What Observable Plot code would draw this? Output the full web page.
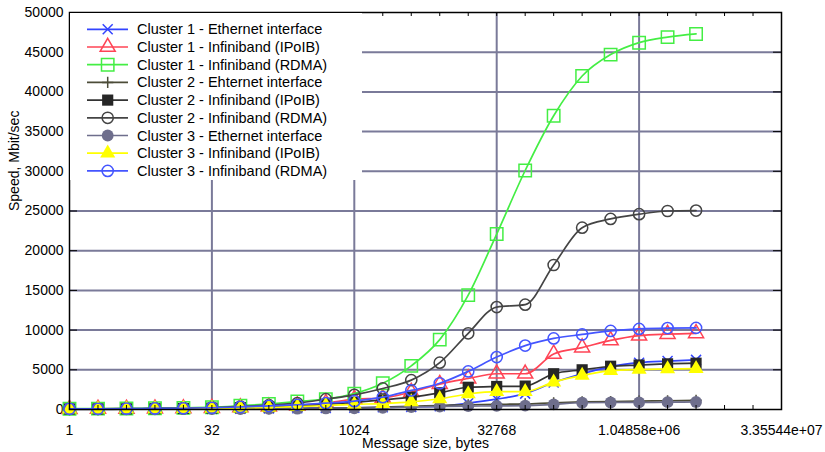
<!DOCTYPE html>
<html><head><meta charset="utf-8">
<script src="https://cdn.jsdelivr.net/npm/d3@7"></script>
<script src="https://cdn.jsdelivr.net/npm/@observablehq/plot@0.6"></script>
<style>
body{margin:0;background:#fff;font-family:"Liberation Sans",Arial,sans-serif;}
#wrap{position:relative;width:825px;height:452px;}
#legend{position:absolute;left:70px;top:13px;background:#fff;}
</style></head><body><div id="wrap"></div>
<script>
// message sizes 2^0 .. 2^22 bytes
const messageSizes = d3.range(23).map(i => 2 ** i);

const seriesNames = [
  "Cluster 1 - Ethernet interface",
  "Cluster 1 - Infiniband (IPoIB)",
  "Cluster 1 - Infiniband (RDMA)",
  "Cluster 2 - Ehternet interface",
  "Cluster 2 - Infiniband (IPoIB)",
  "Cluster 2 - Infiniband (RDMA)",
  "Cluster 3 - Ethernet interface",
  "Cluster 3 - Infiniband (IPoIB)",
  "Cluster 3 - Infiniband (RDMA)"
];

const c1Ethernet = [50,50,60,60,70,80,100,120,150,180,220,280,330,400,800,1300,2000,3400,4500,5400,5900,6100,6250];
const c1IPoIB    = [60,70,80,100,130,180,250,350,500,800,1300,1450,2200,3200,3900,4500,4500,7000,7800,8700,9300,9500,9600];
const c1RDMA     = [100,110,130,150,200,290,480,700,1000,1300,2000,3300,5500,8800,14400,22100,30100,37000,42000,44700,46200,46900,47300];
const c2Ethernet = [30,30,40,40,50,60,80,100,130,170,220,300,400,500,600,650,700,850,950,1000,1050,1100,1150];
const c2IPoIB    = [60,70,80,100,130,170,230,320,450,650,900,1200,1550,2100,2800,2900,2950,4500,5000,5450,5600,5750,5830];
const c2RDMA     = [80,90,110,130,170,240,380,550,800,1300,1850,2650,3700,5900,9600,12900,13200,18200,22900,24000,24600,25000,25050];
const c3Ethernet = [20,20,30,30,40,50,60,80,100,130,160,200,300,380,430,450,480,650,850,880,900,920,950];
const c3IPoIB    = [50,60,70,80,100,130,180,250,350,500,650,750,950,1350,1950,2250,2250,3450,4300,4900,5050,5100,5150];
const c3RDMA     = [80,90,100,130,160,220,320,450,600,800,1050,1550,2400,3300,4800,6600,8050,8950,9450,9900,10150,10250,10280];

const seriesValues = [c1Ethernet,c1IPoIB,c1RDMA,c2Ethernet,c2IPoIB,c2RDMA,c3Ethernet,c3IPoIB,c3RDMA];
const seriesColors = ["#3344ff","#ff4455","#44ee44","#4c4c38","#333333","#444444","#6e6e8c","#ffff00","#4455ff"];
const markerFills  = ["none","none","none","none","#262626","none","#6e6e8c","#ffff00","none"];
const markerShapes = ["times","triangle","square","plus","square","circle","circle","triangle","circle"];
const markerRadii  = [4.6,5.6,7,3.7,6.3,5.6,5.9,5.6,5.6];

const xTickValues = [1,32,1024,32768,1048576,33554432];
const xTickLabels = ["1","32","1024","32768","1.04858e+06","3.35544e+07"];
const yTickValues = d3.range(0, 50001, 5000);
const xMinorTicks = d3.range(26).map(i => 2 ** i);

const W = 825, H = 452, mL = 69, mR = 44, mT = 12, mB = 43;
const plotW = W - mL - mR, plotH = H - mT - mB;
const gridColor = "#7a7a99";

const table = seriesNames.map((name, s) => messageSizes.map((x, i) => ({name, x, y: seriesValues[s][i]})));

const marks = [
  Plot.ruleY(yTickValues.filter(v => v > 0 && v < 50000), {stroke: gridColor, strokeWidth: 2}),
  Plot.ruleX(xTickValues.slice(1, -1), {stroke: gridColor, strokeWidth: 2})
];
table.forEach((data, s) => {
  marks.push(Plot.line(data, {x: "x", y: "y", stroke: seriesColors[s], strokeWidth: 1.7, curve: "monotone-x"}));
  const filled = markerFills[s] !== "none";
  marks.push(Plot.dot(data, {
    x: "x", y: "y", symbol: () => markerShapes[s], r: markerRadii[s],
    fill: filled ? markerFills[s] : "none",
    stroke: filled ? "none" : seriesColors[s],
    strokeWidth: 1.5
  }));
});
marks.push(
  Plot.tickY(yTickValues, {y: d => d, stroke: "black", strokeWidth: 1, insetRight: plotW - 8}),
  Plot.tickY(yTickValues, {y: d => d, stroke: "black", strokeWidth: 1, insetLeft: plotW - 8}),
  Plot.tickX(xMinorTicks, {x: d => d, stroke: "black", strokeWidth: 1, insetBottom: plotH - 4}),
  Plot.tickX(xMinorTicks, {x: d => d, stroke: "black", strokeWidth: 1, insetTop: plotH - 4}),
  Plot.frame({stroke: "black", strokeWidth: 1.5}),
  Plot.text(["Message size, bytes"], {frameAnchor: "bottom", dy: 38, fontSize: 14, fill: "black"}),
  Plot.text(["Speed, Mbit/sec"], {frameAnchor: "left", dx: -55, rotate: -90, fontSize: 14, fill: "black"})
);

const chart = Plot.plot({
  width: W, height: H,
  marginLeft: mL, marginRight: mR, marginTop: mT, marginBottom: mB,
  style: {fontFamily: "Liberation Sans, Arial, sans-serif", fontSize: "14px", background: "white", color: "black", overflow: "visible"},
  x: {type: "log", base: 2, domain: [1, 2 ** 25], ticks: xTickValues,
      tickFormat: d => xTickLabels[xTickValues.indexOf(d)], tickSize: 0, tickPadding: 16, label: null},
  y: {domain: [0, 50000], ticks: yTickValues, tickFormat: d => String(d), tickSize: 0, tickPadding: 6, label: null},
  marks
});
const wrap = document.getElementById("wrap");
wrap.appendChild(chart);

// legend overlay
const lg = d3.select(wrap).append("svg").attr("id", "legend")
  .attr("width", 292).attr("height", 167);
const symMap = {times: d3.symbolTimes, triangle: d3.symbolTriangle, square: d3.symbolSquare, plus: d3.symbolPlus, circle: d3.symbolCircle};
seriesNames.forEach((name, s) => {
  const yy = 16.3 + s * 17.7;
  const g = lg.append("g");
  g.append("line").attr("x1", 17).attr("x2", 58).attr("y1", yy).attr("y2", yy)
    .attr("stroke", seriesColors[s]).attr("stroke-width", 1.7);
  const filled = markerFills[s] !== "none";
  g.append("path").attr("transform", `translate(37.7,${yy})`)
    .attr("d", d3.symbol(symMap[markerShapes[s]], markerRadii[s] ** 2 * Math.PI)())
    .attr("fill", filled ? markerFills[s] : "none")
    .attr("stroke", filled ? "none" : seriesColors[s]).attr("stroke-width", 1.5);
  g.append("text").attr("x", 67).attr("y", yy).attr("dy", "0.35em")
    .attr("font-family", "Liberation Sans, Arial, sans-serif").attr("font-size", 14.5)
    .attr("fill", "black").text(name);
});
</script></body></html>
